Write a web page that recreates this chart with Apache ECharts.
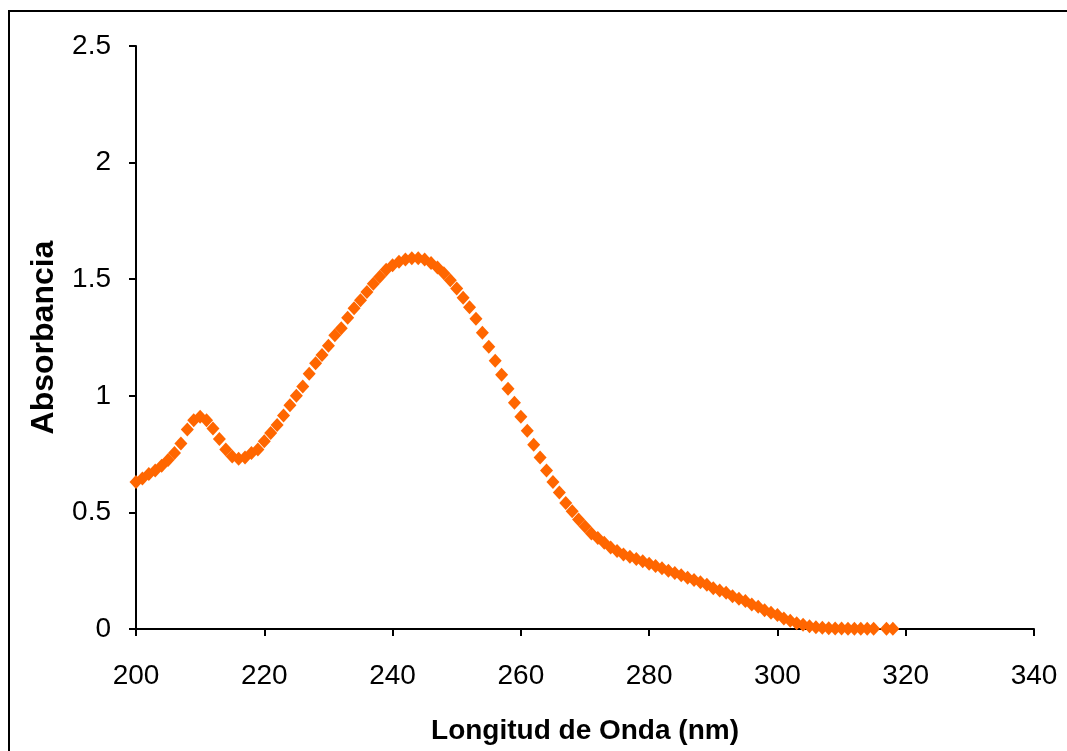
<!DOCTYPE html>
<html>
<head>
<meta charset="utf-8">
<script src="https://cdn.jsdelivr.net/npm/echarts@6/dist/echarts.min.js"></script>
<style>
  html, body { margin: 0; padding: 0; background: #fff; }
  #chart { width: 1067px; height: 751px; }
</style>
</head>
<body>
<div id="chart"></div>
<script>
// longitud de onda (nm), un punto por nm
var wavelength = [];
for (var w = 200; w <= 318; w++) wavelength.push(w);

// absorbancia (200 .. 318 nm)
var absorbance = [
  0.63, 0.645, 0.665, 0.68, 0.70, 0.725, 0.755, 0.795, 0.855, 0.895,   // 200-209
  0.91, 0.895, 0.86, 0.815, 0.77, 0.74, 0.73, 0.735, 0.755, 0.77,      // 210-219
  0.805, 0.84, 0.875, 0.915, 0.96, 1.00, 1.04, 1.095, 1.14, 1.175,     // 220-229
  1.215, 1.26, 1.29, 1.335, 1.375, 1.41, 1.445, 1.48, 1.51, 1.54,      // 230-239
  1.56, 1.575, 1.585, 1.59, 1.59, 1.585, 1.57, 1.55, 1.525, 1.495,     // 240-249
  1.46, 1.42, 1.38, 1.33, 1.27, 1.21, 1.15, 1.09, 1.03, 0.97,          // 250-259
  0.91, 0.85, 0.79, 0.735, 0.68, 0.63, 0.585, 0.54, 0.505, 0.47,       // 260-269
  0.44, 0.41, 0.39, 0.37, 0.35, 0.335, 0.32, 0.31, 0.30, 0.29,         // 270-279
  0.28, 0.27, 0.26, 0.25, 0.24, 0.23, 0.22, 0.21, 0.20, 0.19,          // 280-289
  0.175, 0.165, 0.155, 0.14, 0.13, 0.12, 0.105, 0.095, 0.08, 0.07,     // 290-299
  0.06, 0.045, 0.035, 0.025, 0.018, 0.012, 0.008, 0.005, 0.003, 0.002, // 300-309
  0.002, 0.001, 0.001, 0.001, 0.001, 0.001, null, 0.001, 0.001         // 310-318
];

var xTicks = { min: 200, max: 340, step: 20 };
var yTicks = { min: 0, max: 2.5, step: 0.5 };

var points = wavelength.map(function (w, i) { return [w, absorbance[i]]; });

var font = "'Liberation Sans', Arial, sans-serif";

var myChart = echarts.init(document.getElementById('chart'), null, { renderer: 'canvas' });

var option = {
  backgroundColor: '#ffffff',
  animation: false,
  graphic: [
    {
      type: 'rect',
      shape: { x: 9, y: 11, width: 1200, height: 900 },
      style: { fill: 'none', stroke: '#000', lineWidth: 2 },
      z: -1
    }
  ],
  grid: { left: 136, top: 46, right: 33, bottom: 122 },
  xAxis: {
    type: 'value',
    min: xTicks.min,
    max: xTicks.max,
    interval: xTicks.step,
    name: 'Longitud de Onda (nm)',
    nameLocation: 'middle',
    nameGap: 88,
    nameTextStyle: { color: '#000', fontFamily: font, fontWeight: 'bold', fontSize: 28 },
    axisLine: { lineStyle: { color: '#000', width: 2 } },
    axisTick: { inside: false, length: 7, lineStyle: { color: '#000', width: 2 } },
    axisLabel: { color: '#000', fontFamily: font, fontSize: 28, margin: 33 },
    splitLine: { show: false }
  },
  yAxis: {
    type: 'value',
    min: yTicks.min,
    max: yTicks.max,
    interval: yTicks.step,
    name: 'Absorbancia',
    nameLocation: 'middle',
    nameGap: 76,
    nameTextStyle: { color: '#000', fontFamily: font, fontWeight: 'bold', fontSize: 32 },
    axisLine: { show: true, lineStyle: { color: '#000', width: 2 } },
    axisTick: { show: true, inside: false, length: 7, lineStyle: { color: '#000', width: 2 } },
    axisLabel: { color: '#000', fontFamily: font, fontSize: 28, margin: 25 },
    splitLine: { show: false }
  },
  series: [
    {
      name: 'Absorbancia',
      type: 'scatter',
      data: points,
      symbol: 'diamond',
      symbolSize: [13, 14],
      itemStyle: { color: '#ff6600', opacity: 1 },
      clip: false
    }
  ]
};
myChart.setOption(option);
</script>
</body>
</html>
